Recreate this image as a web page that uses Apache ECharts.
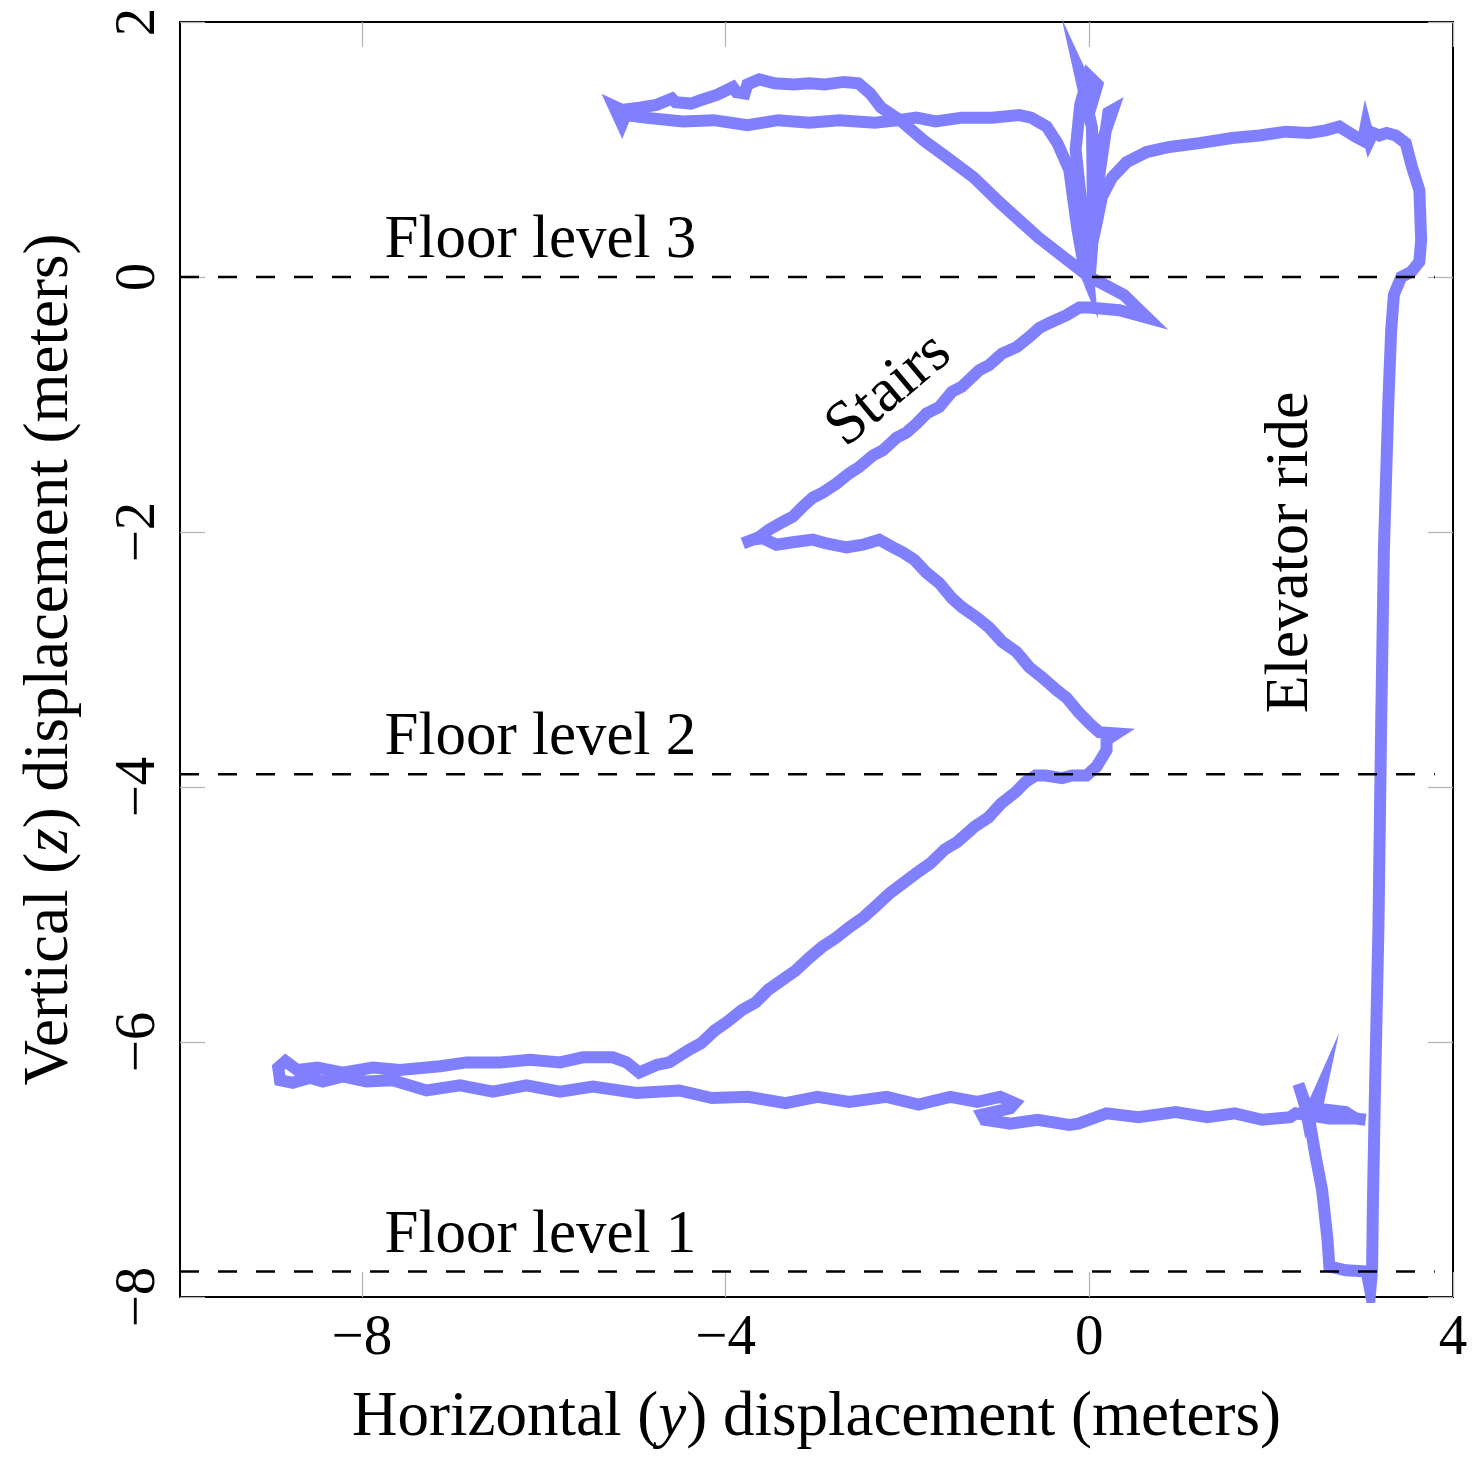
<!DOCTYPE html>
<html>
<head>
<meta charset="utf-8">
<script src="https://cdn.jsdelivr.net/npm/echarts@6.0.0/dist/echarts.min.js"></script>
<style>
html,body{margin:0;padding:0;background:#fff;}
#chart{width:1476px;height:1457px;}
</style>
</head>
<body>
<div id="chart"></div>
<script>
// ---- Data (meters): horizontal y displacement, vertical z displacement ----
const floor3Loop = [[0,0],[-0.56,0.31],[-0.98,0.58],[-1.27,0.78],[-1.57,0.94],[-1.82,1.07],[-2.08,1.23],[-2.29,1.33],[-2.41,1.44],[-2.54,1.52],[-2.70,1.53],[-2.91,1.51],[-3.08,1.52],[-3.25,1.51],[-3.46,1.52],[-3.63,1.55],[-3.76,1.51],[-3.79,1.44],[-3.88,1.45],[-3.92,1.49],[-4.09,1.43],[-4.26,1.39],[-4.38,1.36],[-4.55,1.37],[-4.59,1.40],[-4.76,1.35],[-4.93,1.33],[-5.14,1.31],[-5.23,1.34],[-5.14,1.20],[-5.10,1.27],[-4.89,1.25],[-4.47,1.22],[-4.13,1.23],[-3.76,1.19],[-3.42,1.23],[-3.08,1.21],[-2.75,1.23],[-2.36,1.21],[-2.11,1.23],[-1.90,1.25],[-1.69,1.22],[-1.40,1.25],[-1.07,1.25],[-0.77,1.27],[-0.64,1.25],[-0.47,1.18],[-0.35,1.05],[-0.22,0.84],[-0.18,0.63],[-0.13,0.37],[-0.05,0.05],[-0.01,-0.02]];

const floor3Turns = [[-0.09,0.60],[-0.15,1.00],[-0.10,1.35],[-0.01,1.58],[0.09,1.51],[0.04,1.39],[-0.11,1.62],[0.03,1.17],[0.04,0.53],[0.00,-0.05],[0.07,0.60],[0.21,1.29],[0.26,1.31],[0.11,1.00],[0.03,0.29],[-0.03,0],[0.00,0.16],[0.08,0.42],[0.14,0.63],[0.25,0.78],[0.41,0.90],[0.63,0.98],[0.88,1.02],[1.21,1.05],[1.57,1.09],[1.87,1.11],[2.16,1.14],[2.42,1.13],[2.60,1.15],[2.75,1.18],[2.93,1.10],[3.01,1.07],[3.04,1.18],[3.08,1.07],[3.12,1.13],[3.19,1.11],[3.27,1.13],[3.37,1.11],[3.48,1.05],[3.55,0.86],[3.63,0.68],[3.65,0.29],[3.63,0.12],[3.54,0.04],[3.43,0]];

const elevatorRide = [[3.35,-0.14],[3.32,-0.42],[3.29,-0.96],[3.24,-2.14],[3.21,-3.51],[3.18,-5.10],[3.14,-6.45],[3.12,-7.24],[3.11,-7.79],[3.09,-7.95]];

const floor1Walk = [[3.05,-7.80],[2.82,-7.79],[2.64,-7.76],[2.62,-7.55],[2.56,-7.16],[2.49,-6.90],[2.42,-6.61],[2.30,-6.33],[2.36,-6.45],[2.40,-6.60],[2.55,-6.36],[2.49,-6.56],[2.60,-6.53],[2.82,-6.55],[2.93,-6.60],[3.04,-6.61],[2.93,-6.60],[2.64,-6.60],[2.27,-6.56],[2.21,-6.59],[1.90,-6.61],[1.60,-6.56],[1.30,-6.59],[0.95,-6.55],[0.54,-6.59],[0.19,-6.56],[-0.12,-6.64],[-0.22,-6.65],[-0.57,-6.61],[-0.87,-6.64],[-1.15,-6.61],[-1.18,-6.57],[-0.87,-6.52],[-0.82,-6.48],[-0.98,-6.43],[-1.23,-6.47],[-1.53,-6.43],[-1.88,-6.49],[-2.23,-6.43],[-2.64,-6.47],[-2.99,-6.43],[-3.34,-6.48],[-3.75,-6.43],[-4.15,-6.44],[-4.51,-6.38],[-4.98,-6.40],[-5.46,-6.35],[-5.82,-6.39],[-6.19,-6.34],[-6.56,-6.39],[-6.92,-6.34],[-7.29,-6.38],[-7.66,-6.30],[-7.95,-6.31],[-8.21,-6.27],[-8.43,-6.31],[-8.57,-6.28],[-8.76,-6.32],[-8.90,-6.30],[-8.92,-6.20],[-8.84,-6.15],[-8.71,-6.22],[-8.49,-6.20],[-8.21,-6.24],[-7.88,-6.20],[-7.58,-6.22],[-7.14,-6.19],[-6.85,-6.16],[-6.48,-6.16],[-6.15,-6.14],[-5.82,-6.16],[-5.57,-6.12],[-5.42,-6.12],[-5.24,-6.12],[-5.09,-6.16],[-4.95,-6.24],[-4.76,-6.18],[-4.62,-6.16]];

const stairsLower = [[-4.40,-6.06],[-4.27,-6.01],[-4.12,-5.91],[-3.98,-5.84],[-3.82,-5.75],[-3.67,-5.69],[-3.53,-5.59],[-3.37,-5.51],[-3.23,-5.44],[-3.08,-5.34],[-2.93,-5.25],[-2.78,-5.18],[-2.64,-5.10],[-2.48,-5.02],[-2.34,-4.93],[-2.19,-4.83],[-2.04,-4.75],[-1.89,-4.67],[-1.75,-4.60],[-1.59,-4.49],[-1.45,-4.43],[-1.26,-4.31],[-1.11,-4.24],[-0.97,-4.13],[-0.81,-4.04],[-0.70,-3.96],[-0.59,-3.91],[-0.48,-3.91],[-0.30,-3.93],[-0.19,-3.91],[-0.03,-3.91],[0.08,-3.84],[0.19,-3.71],[0.19,-3.63],[0.30,-3.58]];

const stairsMiddle = [[0.11,-3.57],[0.00,-3.50],[-0.11,-3.42],[-0.25,-3.30],[-0.36,-3.24],[-0.52,-3.14],[-0.66,-3.06],[-0.80,-2.94],[-0.96,-2.86],[-1.10,-2.75],[-1.24,-2.67],[-1.40,-2.59],[-1.51,-2.52],[-1.65,-2.40],[-1.79,-2.32],[-1.92,-2.22],[-2.05,-2.16],[-2.16,-2.12],[-2.31,-2.06],[-2.49,-2.10],[-2.67,-2.12],[-2.89,-2.09],[-3.04,-2.06],[-3.26,-2.08],[-3.44,-2.10],[-3.59,-2.05],[-3.70,-2.06],[-3.81,-2.09]];

const stairsUpper = [[-3.63,-2.04],[-3.52,-1.98],[-3.37,-1.92],[-3.26,-1.88],[-3.15,-1.80],[-3.04,-1.73],[-2.93,-1.69],[-2.78,-1.62],[-2.64,-1.54],[-2.53,-1.49],[-2.38,-1.40],[-2.27,-1.36],[-2.12,-1.26],[-2.01,-1.22],[-1.90,-1.15],[-1.79,-1.07],[-1.65,-1.02],[-1.51,-0.90],[-1.40,-0.86],[-1.21,-0.73],[-1.10,-0.69],[-0.96,-0.60],[-0.80,-0.55],[-0.66,-0.47],[-0.55,-0.40],[-0.44,-0.36],[-0.25,-0.30],[-0.11,-0.24],[0.00,-0.24],[0.33,-0.26],[0.64,-0.32],[0.38,-0.14],[0.14,-0.05],[0.00,0.00]];

const floorLevels = [0, -3.9, -7.8];
const floorNames = ['Floor level 3', 'Floor level 2', 'Floor level 1'];
const floorLineX = [-10, 3.8];
const floorLabelX = -7.75;
const stairsLabel = {text: 'Stairs', at: [-2.20, -0.89]};
const elevatorLabel = {text: 'Elevator ride', at: [2.22, -2.16]};

const xTicks = [-8, -4, 0, 4];
const yTicks = [-8, -6, -4, -2, 0, 2];

// ---- Chart ----
const FONT = 'Liberation Serif';
const fmt = v => (v < 0 ? '\u2212' + Math.abs(v) : String(v));
const path = [].concat(floor3Loop, floor3Turns, elevatorRide, floor1Walk, stairsLower, stairsMiddle, stairsUpper);
const tickStyle = {inside: true, length: 25, lineStyle: {color: '#b5b5b5', width: 1.3}};
const noLine = {show: false, onZero: false};

const chart = echarts.init(document.getElementById('chart'), null, {renderer: 'canvas'});
const option = {
  animation: false,
  backgroundColor: '#ffffff',
  grid: {left: 180, right: 23, top: 22, bottom: 160, show: true, borderColor: '#000', borderWidth: 2, backgroundColor: 'transparent'},
  xAxis: [
    {
      type: 'value', min: -10, max: 4, position: 'bottom',
      axisLine: noLine, splitLine: {show: false},
      axisTick: Object.assign({customValues: xTicks}, tickStyle),
      axisLabel: {customValues: xTicks, formatter: fmt, fontFamily: FONT, fontSize: 57, color: '#000', margin: 14},
      name: 'Horizontal ({i|y}) displacement (meters)',
      nameLocation: 'middle', nameGap: 90,
      nameTextStyle: {fontFamily: FONT, fontSize: 63, color: '#000',
        rich: {i: {fontFamily: FONT, fontSize: 63, fontStyle: 'italic', color: '#000'}}}
    },
    {
      type: 'value', min: -10, max: 4, position: 'top',
      axisLine: noLine, splitLine: {show: false}, axisLabel: {show: false},
      axisTick: Object.assign({customValues: xTicks}, tickStyle)
    }
  ],
  yAxis: [
    {
      type: 'value', min: -8, max: 2, interval: 2, position: 'left',
      axisLine: noLine, splitLine: {show: false},
      axisTick: Object.assign({customValues: yTicks}, tickStyle),
      axisLabel: {customValues: yTicks, formatter: fmt, rotate: 90, fontFamily: FONT, fontSize: 57, color: '#000', margin: 12},
      name: 'Vertical ({i|z}) displacement (meters)',
      nameLocation: 'middle', nameGap: 98, nameRotate: 90,
      nameTextStyle: {fontFamily: FONT, fontSize: 63, color: '#000',
        rich: {i: {fontFamily: FONT, fontSize: 63, fontStyle: 'italic', color: '#000'}}}
    },
    {
      type: 'value', min: -8, max: 2, interval: 2, position: 'right',
      axisLine: noLine, splitLine: {show: false}, axisLabel: {show: false},
      axisTick: Object.assign({customValues: yTicks}, tickStyle)
    }
  ],
  series: [
    {
      type: 'line', data: path, showSymbol: false, symbol: 'none', z: 2,
      lineStyle: {color: '#8080ff', width: 12, join: 'miter', miterLimit: 10, cap: 'butt', opacity: 1},
      silent: true
    }
  ].concat(floorLevels.map(lv => ({
      type: 'line', data: floorLineX.map(x => [x, lv]), symbol: 'none', z: 5, silent: true,
      lineStyle: {color: '#000', width: 2.5, type: [19, 19]}
  }))).concat([
    {
      type: 'scatter', symbolSize: 0, z: 6, silent: true, itemStyle: {opacity: 1},
      data: floorLevels.map((lv, i) => ({value: [floorLabelX, lv], name: floorNames[i]})),
      label: {show: true, formatter: '{b}', position: 'right', distance: 0, offset: [0, -36],
        fontFamily: FONT, fontSize: 61, color: '#000', opacity: 1}
    },
    {
      type: 'scatter', symbolSize: 0, z: 6, silent: true, itemStyle: {opacity: 1},
      data: [
        {value: stairsLabel.at, name: stairsLabel.text, label: {rotate: 40}},
        {value: elevatorLabel.at, name: elevatorLabel.text, label: {rotate: 90}}
      ],
      label: {show: true, formatter: '{b}', position: 'inside', align: 'center', verticalAlign: 'middle',
        fontFamily: FONT, fontSize: 62, color: '#000', opacity: 1}
    }
  ])
};
chart.setOption(option);
</script>
</body>
</html>
